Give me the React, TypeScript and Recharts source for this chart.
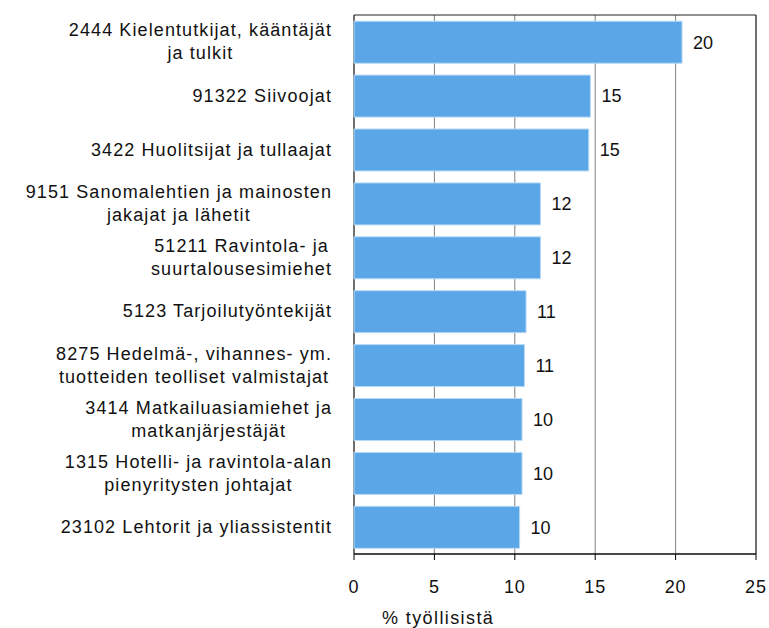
import { useLayoutEffect, useRef, useState } from 'react'
import {
  BarChart,
  Bar,
  XAxis,
  YAxis,
  CartesianGrid,
  LabelList,
  Label,
  ReferenceArea,
} from 'recharts'

const OCCUPATIONS = [
  '2444 Kielentutkijat, kääntäjät\nja tulkit',
  '91322 Siivoojat',
  '3422 Huolitsijat ja tullaajat',
  '9151 Sanomalehtien ja mainosten\njakajat ja lähetit',
  '51211 Ravintola- ja\nsuurtalousesimiehet',
  '5123 Tarjoilutyöntekijät',
  '8275 Hedelmä-, vihannes- ym.\ntuotteiden teolliset valmistajat',
  '3414 Matkailuasiamiehet ja\nmatkanjärjestäjät',
  '1315 Hotelli- ja ravintola-alan\npienyritysten johtajat',
  '23102 Lehtorit ja yliassistentit',
]

const SHARE = [20.4, 14.7, 14.6, 11.6, 11.6, 10.7, 10.6, 10.45, 10.45, 10.3]

const X_TICKS = [0, 5, 10, 15, 20, 25]
const EDGE_TICKS = [0, 1, 2, 3, 4, 5, 6, 7, 8, 9, 10]

const data = OCCUPATIONS.map((name, i) => ({ name, share: SHARE[i] }))

const FONT = '"Liberation Sans", Arial, sans-serif'
const TEXT = '#111'

function CategoryTick(props: any) {
  const { x, y, payload } = props
  const lines = String(payload.value).split('\n')
  const ref = useRef<SVGTextElement>(null)
  const [w, setW] = useState(0)
  useLayoutEffect(() => {
    if (ref.current) setW(ref.current.getBBox().width)
  }, [payload.value])
  const cx = x - w / 2
  return (
    <text
      ref={ref}
      textAnchor="middle"
      fontFamily={FONT}
      fontSize={18}
      letterSpacing={1.1}
      fill={TEXT}
      dominantBaseline="central"
    >
      {lines.map((line, i) => (
        <tspan key={i} x={cx} y={y + (i - (lines.length - 1) / 2) * 23}>
          {line}
        </tspan>
      ))}
    </text>
  )
}

export default function App() {
  return (
    <div style={{ position: 'absolute', left: 0, top: 0, background: '#fff' }}>
      <BarChart
        width={769}
        height={628}
        data={data}
        layout="vertical"
        margin={{ top: 15, right: 13, bottom: 0, left: 0 }}
        barCategoryGap="11.5%"
      >
        <CartesianGrid yAxisId="cat" horizontal={false} stroke="#808080" strokeWidth={1} />
        <YAxis
          yAxisId="edge"
          type="number"
          domain={[0, 10]}
          ticks={EDGE_TICKS}
          width={0}
          tickSize={7}
          tickFormatter={() => ''}
          stroke="#000"
          allowDataOverflow
        />
        <YAxis
          yAxisId="cat"
          type="category"
          dataKey="name"
          width={354}
          axisLine={false}
          tickLine={false}
          tickSize={0}
          tickMargin={22}
          interval={0}
          tick={<CategoryTick />}
        />
        <XAxis
          type="number"
          domain={[0, 25]}
          ticks={X_TICKS}
          height={74}
          tickSize={6}
          tickMargin={20}
          stroke="#000"
          tick={{ fill: TEXT, fontFamily: FONT, fontSize: 18, letterSpacing: 0.9 }}
        >
          <Label
            value="% työllisistä"
            position="insideBottomLeft"
            offset={4}
            dx={24}
            fill={TEXT}
            fontFamily={FONT}
            fontSize={18}
            letterSpacing={1.4}
          />
        </XAxis>
        <Bar
          yAxisId="cat"
          dataKey="share"
          fill="#5BA6E7"
          stroke="#B8DAF6"
          strokeWidth={1}
          isAnimationActive={false}
        >
          <LabelList
            dataKey="share"
            position="right"
            offset={11}
            formatter={(v: any) => Math.round(Number(v))}
            fill={TEXT}
            fontFamily={FONT}
            fontSize={18}
          />
        </Bar>
        <ReferenceArea
          yAxisId="cat"
          x1={0}
          x2={25}
          fill="none"
          stroke="#222"
          strokeWidth={1}
          ifOverflow="visible"
        />
      </BarChart>
    </div>
  )
}
